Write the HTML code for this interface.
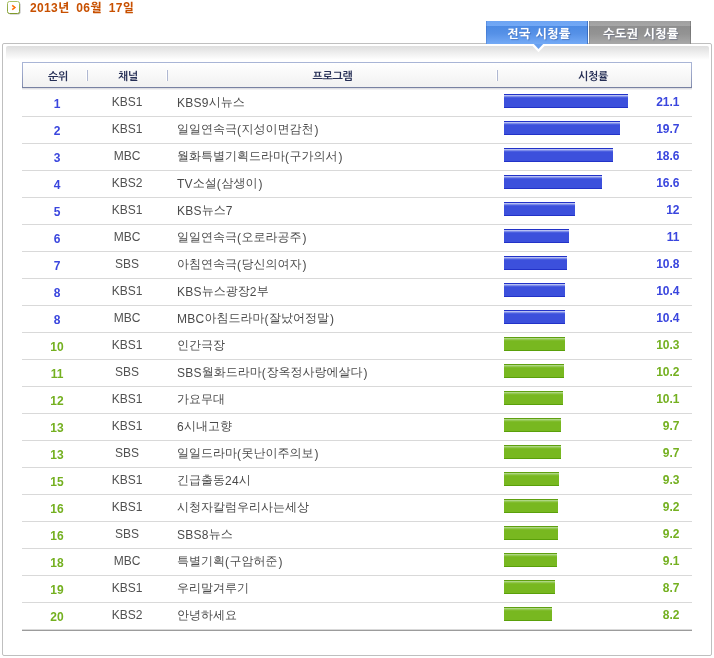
<!DOCTYPE html>
<html lang="ko">
<head>
<meta charset="utf-8">
<title>시청률</title>
<style>
html,body{margin:0;padding:0;background:#fff;}
body{width:714px;height:658px;position:relative;overflow:hidden;font-family:"Liberation Sans","WenQuanYi Zen Hei","NanumGothic",sans-serif;font-size:12px;color:#4a4a4a;}
#date{position:absolute;left:7px;top:1px;height:13px;line-height:13px;white-space:nowrap;}
#date .ico{position:absolute;left:0;top:0;width:16px;height:16px;}
#date .ico svg{display:block;}
#date .dt{position:absolute;left:23px;top:1px;font-weight:bold;color:#c85000;font-size:12px;letter-spacing:0.33px;word-spacing:1.5px;}
#date .k{position:relative;top:0;font-family:"Liberation Sans","NanumGothic",sans-serif;font-weight:800;letter-spacing:1.9px;}
#box{position:absolute;left:2px;top:43px;width:708px;height:611px;border:1px solid #bfbfbf;border-radius:2px;background:#fff;}
#grad{position:absolute;left:3px;top:2px;right:2px;height:14px;border-radius:2px 2px 0 0;background:linear-gradient(#dedede,#fff);}
#tabs{position:absolute;left:486px;top:21px;height:23px;white-space:nowrap;}
.tab{position:absolute;top:0;width:102px;height:23px;line-height:27px;text-align:center;color:#fff;font-weight:bold;font-size:12px;font-family:"Liberation Sans","NanumGothic",sans-serif;}
.tab .k{font-weight:700;letter-spacing:0.5px;word-spacing:1px;text-shadow:0 0 1px rgba(255,255,255,.6),1px 1px 1px rgba(0,20,80,.3);}
.tab.on{left:0;text-indent:4px;background:linear-gradient(#6da4f3 0,#72a8f5 5px,#4c8ae3 5px,#5691e7 55%,#74aaf6 100%);box-shadow:inset -1px 0 0 rgba(30,80,170,.55),inset 1px 0 0 rgba(30,80,170,.25);}
.tab.off{left:103px;text-indent:2px;background:linear-gradient(#a0a0a0 0,#a6a6a6 5px,#8e8e8e 5px,#939393 55%,#a8a8a8 100%);box-shadow:inset -1px 0 0 rgba(0,0,0,.18),inset 1px 0 0 rgba(0,0,0,.1);}
#arrow{position:absolute;left:530px;top:44px;}
#list{position:absolute;left:22px;top:62px;width:670px;}
.head{position:relative;height:24px;border:1px solid transparent;background:linear-gradient(#fff,#f1f1f1) padding-box,linear-gradient(#a9b5d6 0,#a9b5d6 1px,#a3aed0 30%,#8690b2 90%,#757e9e 100%) border-box;box-shadow:0 1px 0 #dfdfe3,0 2px 0 #f1f1f3;margin-bottom:2px;}
.h{position:absolute;top:0;height:24px;line-height:27px;text-align:center;font-weight:bold;font-size:11px;color:#262f56;}
.h{font-family:"Liberation Sans","NanumGothic",sans-serif;}
.h .k{font-weight:700;letter-spacing:-0.4px;}
.h1{left:0;width:70px}.h2{left:65px;width:80px}.h3{left:145px;width:329px}.h4{left:475px;width:190px}
.sep{position:absolute;top:7px;width:1px;height:11px;background:#b0b8d2;box-shadow:-1px 0 0 #fff;}
.s1{left:64px}.s2{left:144px}.s3{left:474px}
.row{position:relative;height:26px;border-bottom:1px solid #d9d9d9;line-height:27px;white-space:nowrap;}
.c1{position:absolute;left:0;top:1px;width:70px;text-align:center;font-weight:bold;}
.c2{position:absolute;left:65px;top:-1px;width:80px;text-align:center;color:#505050;}
.c3{position:absolute;left:155px;}
.c5{position:absolute;right:12.5px;top:-1px;text-align:right;font-weight:bold;}
.n{position:relative;top:-1px;}
.p{letter-spacing:0.6px;}
.q{margin-left:1px;}
.l{letter-spacing:0.25px;}
.bar{position:absolute;left:482px;top:4px;height:14px;}
.b .c1,.b .c5{color:#3a46de}
.g .c1,.g .c5{color:#74b020}
.b .bar{background:linear-gradient(#2232c8 0,#2232c8 1px,#b6bff3 1px,#b6bff3 2px,#7c8bea 2px,#7c8bea 3px,#4b5fe0 3px,#4b5fe0 4px,#3c50dc 4px,#3c50dc 13px,#2232c8 13px);}
.g .bar{background:linear-gradient(#5fa010 0,#5fa010 1px,#aed682 1px,#aed682 2px,#92c850 2px,#92c850 3px,#80bc2c 3px,#80bc2c 4px,#78b820 4px,#78b820 13px,#5aa00a 13px);}
.end{height:1px;background:#9c9c9c;}
</style>
</head>
<body>
<div id="date"><span class="ico"><svg width="16" height="16" viewBox="0 0 16 16"><defs><linearGradient id="ig" x1="0" y1="0" x2="0" y2="1"><stop offset="0" stop-color="#a9c064"/><stop offset="1" stop-color="#7f9a2a"/></linearGradient><filter id="is" x="-20%" y="-20%" width="150%" height="150%"><feGaussianBlur stdDeviation="0.7"/></filter></defs><rect x="1.5" y="1.5" width="12" height="12" rx="2" ry="2" fill="#000" opacity="0.28" filter="url(#is)"/><rect x="0.5" y="0.5" width="12" height="12" rx="2" ry="2" fill="#fff" stroke="url(#ig)"/><path d="M5.2 4.3 L7.9 6.5 L5.2 8.7" fill="none" stroke="#ff6a00" stroke-width="1.5"/></svg></span><span class="dt">2013<span class="k">년</span> 06<span class="k">월</span> 17<span class="k">일</span></span></div>
<div id="box"><div id="grad"></div></div>
<div id="tabs"><div class="tab on"><span class="k">전국 시청률</span></div><div class="tab off"><span class="k">수도권 시청률</span></div></div>
<svg id="arrow" width="17" height="9" viewBox="0 0 17 9"><path d="M0.6 0 H16.4 L8.5 8.2 Z" fill="#fff"/><path d="M3.8 0 H13.2 L8.5 5 Z" fill="#669ff0"/></svg>
<div id="list">
<div class="head"><div class="h h1"><span class="k">순위</span></div><i class="sep s1"></i><div class="h h2"><span class="k">채널</span></div><i class="sep s2"></i><div class="h h3"><span class="k">프로그램</span></div><i class="sep s3"></i><div class="h h4"><span class="k">시청률</span></div></div>
<div class="row b"><div class="c1">1</div><div class="c2">KBS1</div><div class="c3"><span class="l">KBS9</span><span class="n">시뉴스</span></div><div class="bar" style="width:124px"></div><div class="c5">21.1</div></div>
<div class="row b"><div class="c1">2</div><div class="c2">KBS1</div><div class="c3"><span class="n">일일연속극</span><span class="p">(</span><span class="n">지성이면감천</span><span class="q">)</span></div><div class="bar" style="width:116px"></div><div class="c5">19.7</div></div>
<div class="row b"><div class="c1">3</div><div class="c2">MBC</div><div class="c3"><span class="n">월화특별기획드라마</span><span class="p">(</span><span class="n">구가의서</span><span class="q">)</span></div><div class="bar" style="width:109px"></div><div class="c5">18.6</div></div>
<div class="row b"><div class="c1">4</div><div class="c2">KBS2</div><div class="c3"><span class="l">TV</span><span class="n">소설</span><span class="p">(</span><span class="n">삼생이</span><span class="q">)</span></div><div class="bar" style="width:98px"></div><div class="c5">16.6</div></div>
<div class="row b"><div class="c1">5</div><div class="c2">KBS1</div><div class="c3"><span class="l">KBS</span><span class="n">뉴스</span><span class="l">7</span></div><div class="bar" style="width:71px"></div><div class="c5">12</div></div>
<div class="row b"><div class="c1">6</div><div class="c2">MBC</div><div class="c3"><span class="n">일일연속극</span><span class="p">(</span><span class="n">오로라공주</span><span class="q">)</span></div><div class="bar" style="width:65px"></div><div class="c5">11</div></div>
<div class="row b"><div class="c1">7</div><div class="c2">SBS</div><div class="c3"><span class="n">아침연속극</span><span class="p">(</span><span class="n">당신의여자</span><span class="q">)</span></div><div class="bar" style="width:63px"></div><div class="c5">10.8</div></div>
<div class="row b"><div class="c1">8</div><div class="c2">KBS1</div><div class="c3"><span class="l">KBS</span><span class="n">뉴스광장</span><span class="l">2</span><span class="n">부</span></div><div class="bar" style="width:61px"></div><div class="c5">10.4</div></div>
<div class="row b"><div class="c1">8</div><div class="c2">MBC</div><div class="c3"><span class="l">MBC</span><span class="n">아침드라마</span><span class="p">(</span><span class="n">잘났어정말</span><span class="q">)</span></div><div class="bar" style="width:61px"></div><div class="c5">10.4</div></div>
<div class="row g"><div class="c1">10</div><div class="c2">KBS1</div><div class="c3"><span class="n">인간극장</span></div><div class="bar" style="width:61px"></div><div class="c5">10.3</div></div>
<div class="row g"><div class="c1">11</div><div class="c2">SBS</div><div class="c3"><span class="l">SBS</span><span class="n">월화드라마</span><span class="p">(</span><span class="n">장옥정사랑에살다</span><span class="q">)</span></div><div class="bar" style="width:60px"></div><div class="c5">10.2</div></div>
<div class="row g"><div class="c1">12</div><div class="c2">KBS1</div><div class="c3"><span class="n">가요무대</span></div><div class="bar" style="width:59px"></div><div class="c5">10.1</div></div>
<div class="row g"><div class="c1">13</div><div class="c2">KBS1</div><div class="c3"><span class="l">6</span><span class="n">시내고향</span></div><div class="bar" style="width:57px"></div><div class="c5">9.7</div></div>
<div class="row g"><div class="c1">13</div><div class="c2">SBS</div><div class="c3"><span class="n">일일드라마</span><span class="p">(</span><span class="n">못난이주의보</span><span class="q">)</span></div><div class="bar" style="width:57px"></div><div class="c5">9.7</div></div>
<div class="row g"><div class="c1">15</div><div class="c2">KBS1</div><div class="c3"><span class="n">긴급출동</span><span class="l">24</span><span class="n">시</span></div><div class="bar" style="width:55px"></div><div class="c5">9.3</div></div>
<div class="row g"><div class="c1">16</div><div class="c2">KBS1</div><div class="c3"><span class="n">시청자칼럼우리사는세상</span></div><div class="bar" style="width:54px"></div><div class="c5">9.2</div></div>
<div class="row g"><div class="c1">16</div><div class="c2">SBS</div><div class="c3"><span class="l">SBS8</span><span class="n">뉴스</span></div><div class="bar" style="width:54px"></div><div class="c5">9.2</div></div>
<div class="row g"><div class="c1">18</div><div class="c2">MBC</div><div class="c3"><span class="n">특별기획</span><span class="p">(</span><span class="n">구암허준</span><span class="q">)</span></div><div class="bar" style="width:53px"></div><div class="c5">9.1</div></div>
<div class="row g"><div class="c1">19</div><div class="c2">KBS1</div><div class="c3"><span class="n">우리말겨루기</span></div><div class="bar" style="width:51px"></div><div class="c5">8.7</div></div>
<div class="row g"><div class="c1">20</div><div class="c2">KBS2</div><div class="c3"><span class="n">안녕하세요</span></div><div class="bar" style="width:48px"></div><div class="c5">8.2</div></div>
<div class="end"></div>
</div>
</body>
</html>
